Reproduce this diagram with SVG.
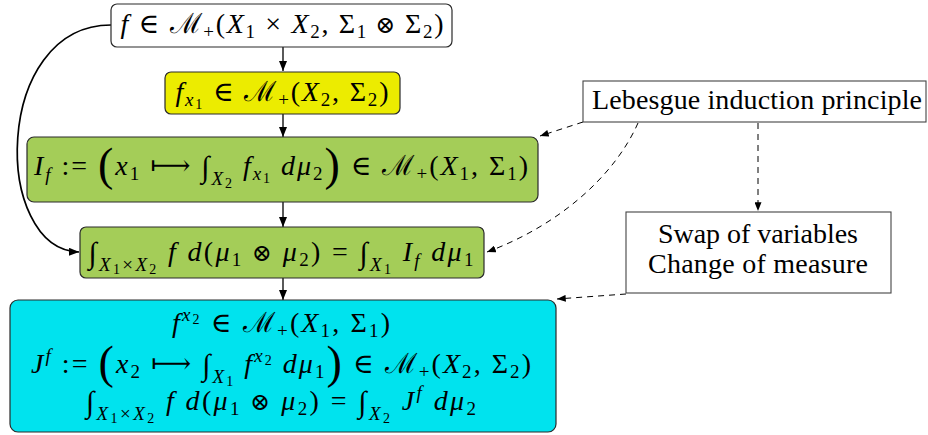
<svg xmlns="http://www.w3.org/2000/svg" width="928" height="435" viewBox="0 0 928 435">
<style>
.box{stroke:#2a2a2a;stroke-width:1.2}
.plain{fill:#fff;stroke:#444;stroke-width:1.1}
.t{font-size:28px;fill:#000}
.i{font-style:italic}
.s{font-size:19px}
.ss{font-size:14px}
.bp{font-size:46px}
.int{font-size:30px}
.op{font-size:24px}
.c{fill:none;stroke:#000;stroke-width:1.3}
.cv{fill:none;stroke:#000;stroke-width:1.7}
.d{fill:none;stroke:#000;stroke-width:1;stroke-dasharray:6 5}
</style>
<defs>
<marker id="ah" viewBox="0 0 10 8" refX="10" refY="4" markerWidth="10" markerHeight="8" orient="auto" markerUnits="userSpaceOnUse"><path d="M0,0 L10,4 L0,8 Z" fill="#000"/></marker>
<marker id="ahs" viewBox="0 0 10 8" refX="10" refY="4" markerWidth="9" markerHeight="7" orient="auto" markerUnits="userSpaceOnUse"><path d="M0,0 L10,4 L0,8 Z" fill="#000"/></marker>
</defs>
<g id="connectors">
<path class="c" d="M283,47 L283,71" marker-end="url(#ah)"/>
<path class="c" d="M283,114 L283,137" marker-end="url(#ah)"/>
<path class="c" d="M283,202 L283,227" marker-end="url(#ah)"/>
<path class="c" d="M283,278 L283,300" marker-end="url(#ah)"/>
<path class="cv" d="M111,25 C -8,25 -8,250 79,252" marker-end="url(#ah)"/>
<path class="d" d="M583,122 L540,136" marker-end="url(#ahs)"/>
<path class="d" d="M638,123 C 615,175 560,225 487,252" marker-end="url(#ahs)"/>
<path class="d" d="M758,123 L758,211" marker-end="url(#ahs)"/>
<path class="d" d="M626,294 L557,299" marker-end="url(#ahs)"/>
</g>
<g font-family="'Liberation Serif', 'Times New Roman', Tinos, 'DejaVu Serif', serif">
<g id="node-f">
<rect class="box" x="111" y="4" width="341" height="43" rx="6" fill="#fff"/>
<text class="t" x="282" y="33" text-anchor="middle" textLength="323" lengthAdjust="spacing"><tspan class="i">f</tspan><tspan> ∈ ℳ</tspan><tspan class="s" dy="5">+</tspan><tspan dy="-5">(</tspan><tspan class="i">X</tspan><tspan class="s" dy="5">1</tspan><tspan dy="-5"> × </tspan><tspan class="i">X</tspan><tspan class="s" dy="5">2</tspan><tspan dy="-5">, Σ</tspan><tspan class="s" dy="5">1</tspan><tspan class="op" dy="-5"> ⊗ </tspan><tspan>Σ</tspan><tspan class="s" dy="5">2</tspan><tspan dy="-5">)</tspan></text>
</g>
<g id="node-fx1">
<rect class="box" x="165" y="72" width="235" height="42" rx="6" fill="#ecec00"/>
<text class="t" x="282" y="101" text-anchor="middle" textLength="213" lengthAdjust="spacing"><tspan class="i">f</tspan><tspan class="i s" dy="5">x</tspan><tspan class="ss" dy="3">1</tspan><tspan dy="-8"> ∈ ℳ</tspan><tspan class="s" dy="5">+</tspan><tspan dy="-5">(</tspan><tspan class="i">X</tspan><tspan class="s" dy="5">2</tspan><tspan dy="-5">, Σ</tspan><tspan class="s" dy="5">2</tspan><tspan dy="-5">)</tspan></text>
</g>
<g id="node-If">
<rect class="box" x="27" y="137" width="511" height="65" rx="7" fill="#a4cd58"/>
<text class="t" x="281" y="175" text-anchor="middle" textLength="494" lengthAdjust="spacing"><tspan class="i">I</tspan><tspan class="i s" dy="6">f</tspan><tspan dy="-6"> := </tspan><tspan class="bp" dy="5">(</tspan><tspan class="i" dy="-5">x</tspan><tspan class="s" dy="5">1</tspan><tspan dy="-5"> ⟼ </tspan><tspan class="int" dy="2">∫</tspan><tspan class="i s" dy="8">X</tspan><tspan class="ss" dy="3">2</tspan><tspan class="i" dy="-13"> f</tspan><tspan class="i s" dy="5">x</tspan><tspan class="ss" dy="3">1</tspan><tspan class="i" dy="-8"> dμ</tspan><tspan class="s" dy="5">2</tspan><tspan class="bp">)</tspan><tspan dy="-5"> ∈ ℳ</tspan><tspan class="s" dy="5">+</tspan><tspan dy="-5">(</tspan><tspan class="i">X</tspan><tspan class="s" dy="5">1</tspan><tspan dy="-5">, Σ</tspan><tspan class="s" dy="5">1</tspan><tspan dy="-5">)</tspan></text>
</g>
<g id="node-int1">
<rect class="box" x="80" y="227" width="404" height="51" rx="6" fill="#a4cd58"/>
<text class="t" x="281" y="261" text-anchor="middle" textLength="385" lengthAdjust="spacing"><tspan class="int" dy="2">∫</tspan><tspan class="i s" dy="8">X</tspan><tspan class="ss" dy="3">1</tspan><tspan class="s" dy="-3">×</tspan><tspan class="i s">X</tspan><tspan class="ss" dy="3">2</tspan><tspan class="i" dy="-13"> f d</tspan><tspan>(</tspan><tspan class="i">μ</tspan><tspan class="s" dy="5">1</tspan><tspan class="op" dy="-5"> ⊗ </tspan><tspan class="i">μ</tspan><tspan class="s" dy="5">2</tspan><tspan dy="-5">) = </tspan><tspan class="int" dy="2">∫</tspan><tspan class="i s" dy="8">X</tspan><tspan class="ss" dy="3">1</tspan><tspan class="i" dy="-13"> I</tspan><tspan class="i s" dy="6">f</tspan><tspan class="i" dy="-6"> dμ</tspan><tspan class="s" dy="5">1</tspan></text>
</g>
<g id="node-swap-result">
<rect class="box" x="10" y="300" width="546" height="132" rx="8" fill="#00e3ee"/>
<text class="t" x="281" y="332" text-anchor="middle" textLength="218" lengthAdjust="spacing"><tspan class="i">f</tspan><tspan class="i s" dy="-11">x</tspan><tspan class="ss" dy="3">2</tspan><tspan dy="8"> ∈ ℳ</tspan><tspan class="s" dy="5">+</tspan><tspan dy="-5">(</tspan><tspan class="i">X</tspan><tspan class="s" dy="5">1</tspan><tspan dy="-5">, Σ</tspan><tspan class="s" dy="5">1</tspan><tspan dy="-5">)</tspan></text>
<text class="t" x="281" y="373" text-anchor="middle" textLength="500" lengthAdjust="spacing"><tspan class="i">J</tspan><tspan class="i s" dy="-11">f</tspan><tspan dy="11"> := </tspan><tspan class="bp" dy="5">(</tspan><tspan class="i" dy="-5">x</tspan><tspan class="s" dy="5">2</tspan><tspan dy="-5"> ⟼ </tspan><tspan class="int" dy="2">∫</tspan><tspan class="i s" dy="8">X</tspan><tspan class="ss" dy="3">1</tspan><tspan class="i" dy="-13"> f</tspan><tspan class="i s" dy="-11">x</tspan><tspan class="ss" dy="3">2</tspan><tspan class="i" dy="8"> dμ</tspan><tspan class="s" dy="5">1</tspan><tspan class="bp">)</tspan><tspan dy="-5"> ∈ ℳ</tspan><tspan class="s" dy="5">+</tspan><tspan dy="-5">(</tspan><tspan class="i">X</tspan><tspan class="s" dy="5">2</tspan><tspan dy="-5">, Σ</tspan><tspan class="s" dy="5">2</tspan><tspan dy="-5">)</tspan></text>
<text class="t" x="281" y="410" text-anchor="middle" textLength="390" lengthAdjust="spacing"><tspan class="int" dy="2">∫</tspan><tspan class="i s" dy="8">X</tspan><tspan class="ss" dy="3">1</tspan><tspan class="s" dy="-3">×</tspan><tspan class="i s">X</tspan><tspan class="ss" dy="3">2</tspan><tspan class="i" dy="-13"> f d</tspan><tspan>(</tspan><tspan class="i">μ</tspan><tspan class="s" dy="5">1</tspan><tspan class="op" dy="-5"> ⊗ </tspan><tspan class="i">μ</tspan><tspan class="s" dy="5">2</tspan><tspan dy="-5">) = </tspan><tspan class="int" dy="2">∫</tspan><tspan class="i s" dy="8">X</tspan><tspan class="ss" dy="3">2</tspan><tspan class="i" dy="-13"> J</tspan><tspan class="i s" dy="-11">f</tspan><tspan class="i" dy="11"> dμ</tspan><tspan class="s" dy="5">2</tspan></text>
</g>
<g id="node-lebesgue">
<rect class="plain" x="583" y="81" width="343" height="41"/>
<text class="t" x="757" y="109" text-anchor="middle" textLength="330" lengthAdjust="spacing">Lebesgue induction principle</text>
</g>
<g id="node-swap">
<rect class="plain" x="626" y="212" width="265" height="81"/>
<text class="t" x="758" y="243" text-anchor="middle" textLength="200" lengthAdjust="spacing">Swap of variables</text>
<text class="t" x="758" y="273" text-anchor="middle" textLength="220" lengthAdjust="spacing">Change of measure</text>
</g>
</g>
</svg>
